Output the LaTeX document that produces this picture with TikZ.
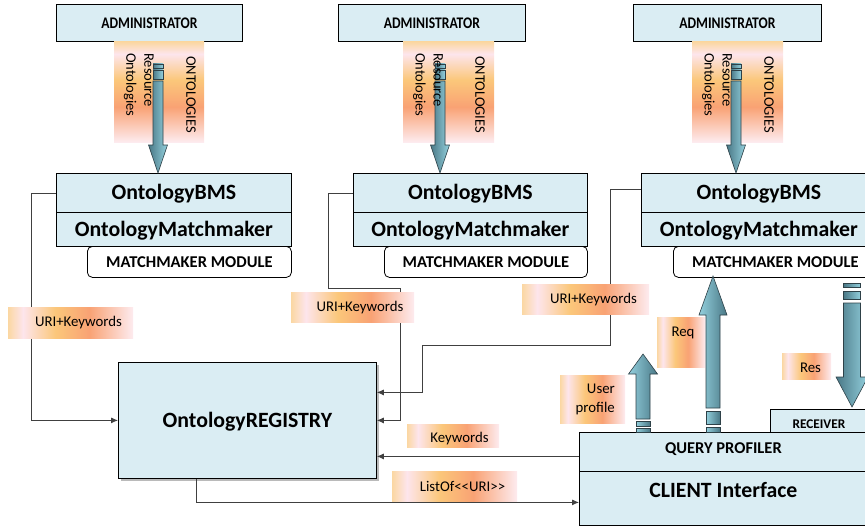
\documentclass[tikz,border=0pt]{standalone}
\usepackage{fontspec}
\setmainfont{Carlito}
\newfontfamily\admfont[FakeStretch=0.84]{Carlito}
\usetikzlibrary{arrows.meta,shadows}
\definecolor{boxfill}{HTML}{DAEDF3}
\definecolor{arrdk}{HTML}{4A7886}
\definecolor{arrlt}{HTML}{93D0DD}
\definecolor{arrln}{HTML}{2E4148}
\definecolor{connc}{HTML}{404040}
\definecolor{gA}{HTML}{FBD7A2}
\definecolor{gB}{HTML}{FDE5EC}
\definecolor{gC}{HTML}{FBC77A}
\definecolor{gD}{HTML}{F9A274}
\definecolor{gE}{HTML}{FDEBEF}
\pgfdeclarehorizontalshading{lblh}{100bp}{color(0bp)=(gA); color(25bp)=(gA); color(31bp)=(gB); color(44bp)=(gC); color(57.5bp)=(gD); color(75bp)=(gE); color(100bp)=(gE)}
\pgfdeclareverticalshading{lblv}{100bp}{color(0bp)=(gE); color(25bp)=(gE); color(42.5bp)=(gD); color(56bp)=(gC); color(69bp)=(gB); color(75bp)=(gA); color(100bp)=(gA)}
\newcommand\myblkarrow[7]{%
  \path[#1] ({#2-#6},#3) -- ({#2+#6},#3) -- ({#2+#6},#4) -- ({#2+#7},#4) -- (#2,#5) -- ({#2-#7},#4) -- ({#2-#6},#4) -- cycle;}
\newcommand\myblkseg[5]{%
  \path[#1] ({#2-#5},#3) rectangle ({#2+#5},#4);}
\tikzset{
  box/.style={draw=black, line width=0.8pt, fill=boxfill, inner sep=0pt, anchor=north west},
  modbox/.style={draw=black, line width=0.8pt, fill=white, rounded corners=5pt, inner sep=0pt, anchor=north west},
  bigt/.style={font=\fontsize{21.8}{26}\selectfont\bfseries, text height=14pt, text depth=0pt},
  medt/.style={font=\fontsize{16.5}{20}\selectfont\bfseries, text height=10.6pt, text depth=0pt},
  admt/.style={font=\admfont\fontsize{16.2}{19}\selectfont\bfseries, text height=10.4pt, text depth=0pt},
  lblt/.style={font=\fontsize{14.8}{19}\selectfont, inner sep=0pt, text height=9.5pt, text depth=0pt},
  lblm/.style={font=\fontsize{14.8}{19}\selectfont, inner sep=0pt},
  rott/.style={font=\fontsize{14.5}{18}\selectfont, inner sep=0pt, rotate=-90, anchor=north west, align=left},
  conn/.style={draw=connc, line width=0.8pt, -{Latex[length=7pt,width=6pt]}},
  blkdn/.style={draw=arrln, line width=0.6pt, left color=arrdk, right color=arrlt},
  blkup/.style={draw=arrln, line width=0.6pt, left color=arrlt, right color=arrdk},
  lblbg/.style={shading=lblh, draw=none},
  lblbgv/.style={shading=lblv, draw=none},
}
\begin{document}
\begin{tikzpicture}[x=1pt,y=-1pt]
\useasboundingbox (0,0) rectangle (865,527);
\clip (0,0) rectangle (865,527);

% administrators
\node[box, admt, minimum width=186pt, minimum height=37pt] (adm1) at (56,4) {ADMINISTRATOR};
\node[box, admt, minimum width=187pt, minimum height=37pt] (adm2) at (338,4) {ADMINISTRATOR};
\node[box, admt, minimum width=188pt, minimum height=37pt] (adm3) at (633,4) {ADMINISTRATOR};

% matchmaker modules
\node[modbox, medt, minimum width=204pt, minimum height=31pt] (mod1) at (87,246) {MATCHMAKER MODULE};
\node[modbox, medt, minimum width=203pt, minimum height=31pt] (mod2) at (384,246) {MATCHMAKER MODULE};
\node[modbox, medt, minimum width=204pt, minimum height=31pt] (mod3) at (673,246) {MATCHMAKER MODULE};

% BMS / matchmaker
\node[box, bigt, minimum width=235pt, minimum height=39pt] (bms1) at (56,173) {OntologyBMS};
\node[box, bigt, minimum width=235pt, minimum height=34pt] (mm1) at (56,212) {OntologyMatchmaker};
\node[box, bigt, minimum width=234pt, minimum height=39pt] (bms2) at (353,173) {OntologyBMS};
\node[box, bigt, minimum width=234pt, minimum height=34pt] (mm2) at (353,212) {OntologyMatchmaker};
\node[box, bigt, minimum width=235pt, minimum height=39pt] (bms3) at (641,173) {OntologyBMS};
\node[box, bigt, minimum width=235pt, minimum height=34pt] (mm3) at (641,212) {OntologyMatchmaker};

% registry
\node[box, bigt, minimum width=258pt, minimum height=116pt,
      drop shadow={shadow xshift=2.5pt, shadow yshift=-2.5pt, fill=black!45, opacity=0.6}] (reg) at (118,362) {OntologyREGISTRY};

% client
\node[box, medt, text depth=7pt, minimum width=288pt, minimum height=39pt] (qp) at (579,432) {QUERY PROFILER};
\node[box, bigt, text depth=16pt, minimum width=288pt, minimum height=54pt] (ci) at (579,471) {CLIENT Interface};
\node[box, font=\fontsize{13.3}{16}\selectfont\bfseries, text height=14.6pt, text depth=0pt, minimum width=97pt, minimum height=23pt] (rcv) at (770,409) {RECEIVER};

% connectors
\coordinate (j2) at (400,288);
\coordinate (j3) at (422,345);
\coordinate (q4) at ([yshift=-4.5pt]qp.west);
\draw[conn] (bms1.west) -- ++(-25,0) |- (reg.west);
\draw[conn] (bms2.west) -- ++(-25,0) |- (j2) |- (reg.east);
\draw[conn] ([yshift=3.5pt]bms3.west) -- ++(-31,0) |- (j3) |- ([yshift=28pt]reg.east);
\draw[conn] (q4) -- (reg.east |- q4);
\draw[conn] ([xshift=-51pt]reg.south) |- ([yshift=-4pt]ci.west);

% connector labels
\path[lblbg] (8,307) rectangle (133,338);
\node[lblt] (k1) at (78.5,322) {URI+Keywords};
\path[lblbg] (291,292) rectangle (414,322);
\node[lblt] (k2) at (360,307) {URI+Keywords};
\path[lblbg] (522,284) rectangle (649,314);
\node[lblt] (k3) at (593.5,298.5) {URI+Keywords};
\path[lblbg] (657,317) rectangle (705,367);
\node[lblt] (rq) at (683,332) {Req};
\path[lblbg] (782,353) rectangle (831,379);
\node[lblt] (rs) at (810.5,368) {Res};
\path[lblbg] (560,375) rectangle (625,423);
\node[lblm, align=right, anchor=east] (up) at (615,399) {User\\profile};
\path[lblbg] (407,424) rectangle (499,447);
\node[lblt] (kw) at (459.5,438) {Keywords};
\path[lblbg] (392,471) rectangle (517,501);
\node[lblt] (lo) at (462.5,486.5) {ListOf<{}<URI>{}>};

% admin labels
\path[lblbgv] (114,42) rectangle (204,142);
\path[lblbgv] (403,42) rectangle (494,142);
\path[lblbgv] (692,42) rectangle (783,142);

% block arrows
\foreach \cx in {158,440,736}{
  \myblkseg{blkdn}{\cx}{64}{68}{5}
  \myblkseg{blkdn}{\cx}{70}{79}{5}
  \myblkarrow{blkdn}{\cx}{81}{145}{173}{5}{9.5}
}
\myblkarrow{blkup}{713}{408}{315}{276}{7}{14}
\myblkseg{blkup}{713}{411}{424}{7}
\myblkseg{blkup}{713}{427}{432}{7}
\myblkarrow{blkup}{643}{419}{374}{354}{7}{14.5}
\myblkseg{blkup}{643}{421}{426}{7}
\myblkseg{blkup}{643}{428}{432}{7}
\myblkseg{blkdn}{852}{283}{287}{8.5}
\myblkseg{blkdn}{852}{291}{299}{8.5}
\myblkarrow{blkdn}{852}{303}{377}{407}{8.5}{16}

% rotated admin texts
\node[rott] (ro1) at (154,53) {Resource\\Ontologies};
\node[rott] (on1) at (196,56) {ONTOLOGIES};
\node[rott] (ro2) at (443,53) {Resource\\Ontologies};
\node[rott] (on2) at (485,56) {ONTOLOGIES};
\node[rott] (ro3) at (732,53) {Resource\\Ontologies};
\node[rott] (on3) at (774,56) {ONTOLOGIES};
\end{tikzpicture}
\end{document}
